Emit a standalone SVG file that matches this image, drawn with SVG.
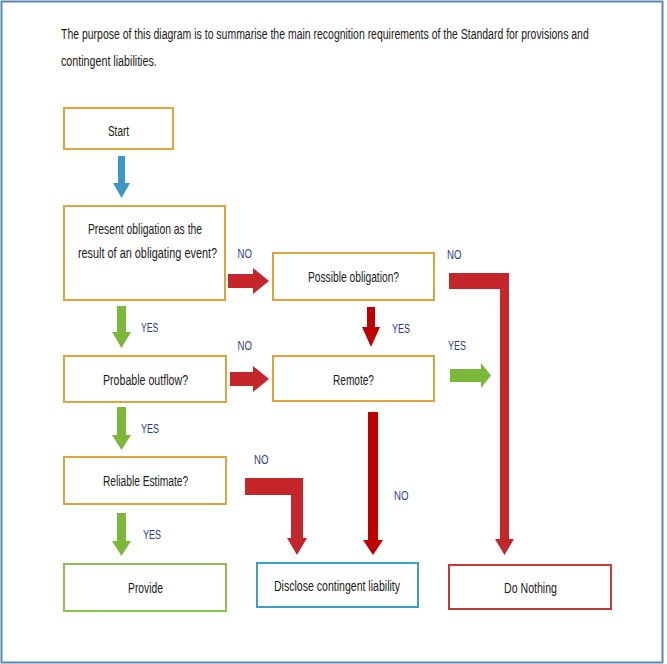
<svg xmlns="http://www.w3.org/2000/svg" width="667" height="664" viewBox="0 0 667 664">
<style>
.t{font-family:"Liberation Sans",Arial,sans-serif;font-size:15px;fill:#1a1a1a;text-anchor:middle}
.title{font-family:"Liberation Sans",Arial,sans-serif;font-size:14.5px;fill:#1a1a1a}
.lb{font-family:"Liberation Sans",Arial,sans-serif;font-size:13px;fill:#2b3a8c}
.box{fill:#fff;stroke-width:2}
.or{stroke:#e2a23c}
.gr{stroke:#8cc04c}
.bl{stroke:#3ba0c8}
.rd{stroke:#c23a3c}
.red{fill:#c4262a}
.dred{fill:#c00000}
.green{fill:#7ab83a}
.blue{fill:#3b98c6}
</style>
<rect x="0" y="0" width="667" height="664" fill="#fff"/>
<rect x="1.5" y="1.5" width="661" height="661" fill="none" stroke="#5b86b8" stroke-width="2"/>
<text class="title" transform="translate(61,38.5) scale(0.72,1)" x="0" y="0" textLength="733" lengthAdjust="spacingAndGlyphs">The purpose of this diagram is to summarise the main recognition requirements of the Standard for provisions and</text>
<text class="title" transform="translate(61,65.5) scale(0.72,1)" x="0" y="0" textLength="133" lengthAdjust="spacingAndGlyphs">contingent liabilities.</text>

<g id="connectors">
<polygon class="blue" points="118,156 125,156 125,183 130,183 121.5,198 113,183 118,183"/>
<polygon class="green" points="117,306 126,306 126,332 131,332 121.5,348 112,332 117,332"/>
<polygon class="green" points="117,407 126,407 126,435 131,435 121.5,450 112,435 117,435"/>
<polygon class="green" points="117,513 126,513 126,541 131,541 121.5,556 112,541 117,541"/>
<polygon class="green" points="450,369 481,369 481,363 491,375.5 481,388 481,382 450,382"/>
<polygon class="red" points="228,274 253,274 253,268 269,281 253,294 253,288 228,288"/>
<polygon class="red" points="230,372 253,372 253,366 269,379 253,392 253,386 230,386"/>
<polygon class="dred" points="367,307 375,307 375,327 380,327 371,347 362,327 367,327"/>
<polygon class="dred" points="368,412 378,412 378,540 383,540 373,555 363,540 368,540"/>
<polygon class="red" points="449,273 509,273 509,539 514,539 504.5,555 495,539 500,539 500,289 449,289"/>
<polygon class="red" points="245,478 303,478 303,538 307,538 297,555 287,538 291,538 291,495 245,495"/>
<text class="lb" transform="translate(141,332) scale(0.72,1)" textLength="24" lengthAdjust="spacingAndGlyphs">YES</text>
<text class="lb" transform="translate(141,433) scale(0.72,1)" textLength="25" lengthAdjust="spacingAndGlyphs">YES</text>
<text class="lb" transform="translate(143,539) scale(0.72,1)" textLength="25" lengthAdjust="spacingAndGlyphs">YES</text>
<text class="lb" transform="translate(392,333) scale(0.72,1)" textLength="25" lengthAdjust="spacingAndGlyphs">YES</text>
<text class="lb" transform="translate(448,350) scale(0.72,1)" textLength="25" lengthAdjust="spacingAndGlyphs">YES</text>
<text class="lb" transform="translate(237.5,258) scale(0.72,1)" textLength="20" lengthAdjust="spacingAndGlyphs">NO</text>
<text class="lb" transform="translate(447,259) scale(0.72,1)" textLength="20" lengthAdjust="spacingAndGlyphs">NO</text>
<text class="lb" transform="translate(237.5,350) scale(0.72,1)" textLength="20" lengthAdjust="spacingAndGlyphs">NO</text>
<text class="lb" transform="translate(254,464) scale(0.72,1)" textLength="20" lengthAdjust="spacingAndGlyphs">NO</text>
<text class="lb" transform="translate(394,500) scale(0.72,1)" textLength="20" lengthAdjust="spacingAndGlyphs">NO</text>
</g>

<g id="start">
<rect class="box or" x="64" y="108" width="109" height="41"/>
<text class="t" transform="translate(118.5,135.5) scale(0.66,1)" textLength="32" lengthAdjust="spacingAndGlyphs">Start</text>
</g>
<g id="present">
<rect class="box or" x="64" y="206" width="161" height="94"/>
<text class="t" transform="translate(145,233.5) scale(0.66,1)" textLength="173" lengthAdjust="spacingAndGlyphs">Present obligation as the</text>
<text class="t" transform="translate(147.5,257.5) scale(0.66,1)" textLength="211" lengthAdjust="spacingAndGlyphs">result of an obligating event?</text>
</g>
<g id="possible">
<rect class="box or" x="273" y="253" width="161" height="47"/>
<text class="t" transform="translate(353.5,281.5) scale(0.66,1)" textLength="138" lengthAdjust="spacingAndGlyphs">Possible obligation?</text>
</g>
<g id="probable">
<rect class="box or" x="64" y="356" width="162" height="46"/>
<text class="t" transform="translate(145.5,384.5) scale(0.66,1)" textLength="129" lengthAdjust="spacingAndGlyphs">Probable outflow?</text>
</g>
<g id="remote">
<rect class="box or" x="273" y="356" width="161" height="45"/>
<text class="t" transform="translate(353.5,384.5) scale(0.66,1)" textLength="62" lengthAdjust="spacingAndGlyphs">Remote?</text>
</g>
<g id="reliable">
<rect class="box or" x="64" y="457" width="162" height="47"/>
<text class="t" transform="translate(145.5,485.5) scale(0.66,1)" textLength="129" lengthAdjust="spacingAndGlyphs">Reliable Estimate?</text>
</g>
<g id="provide">
<rect class="box gr" x="64" y="564" width="162" height="47"/>
<text class="t" transform="translate(145.5,592.5) scale(0.66,1)" textLength="53" lengthAdjust="spacingAndGlyphs">Provide</text>
</g>
<g id="disclose">
<rect class="box bl" x="257" y="563" width="161" height="44"/>
<text class="t" transform="translate(337,590.5) scale(0.66,1)" textLength="191" lengthAdjust="spacingAndGlyphs">Disclose contingent liability</text>
</g>
<g id="nothing">
<rect class="box rd" x="449" y="565" width="162" height="44"/>
<text class="t" transform="translate(530.5,592.5) scale(0.66,1)" textLength="80" lengthAdjust="spacingAndGlyphs">Do Nothing</text>
</g>
</svg>
